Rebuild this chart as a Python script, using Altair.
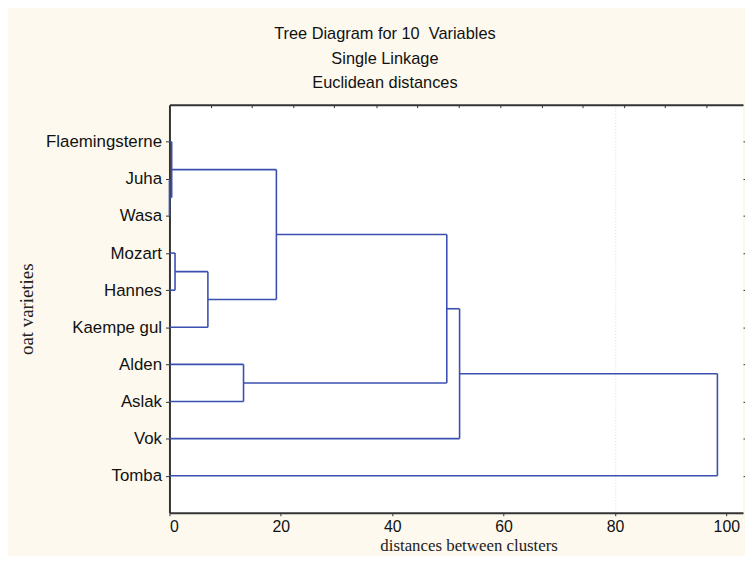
import json
import altair as alt
import pandas as pd

varieties = ["Flaemingsterne", "Juha", "Wasa", "Mozart", "Hannes",
             "Kaempe gul", "Alden", "Aslak", "Vok", "Tomba"]
# linkage steps: (cluster a, cluster b, linkage distance); new clusters numbered 10, 11, ...
merge_a = [1, 0, 3, 12, 11, 6, 14, 16, 17]
merge_b = [2, 10, 4, 5, 13, 7, 15, 8, 9]
merge_dist = [0.0, 0.4, 1.0, 6.9, 19.2, 13.3, 49.8, 52.1, 98.4]

x_ticks = [0, 20, 40, 60, 80, 100]
top_ticks = [7.4, 14.8, 22.2, 29.6, 37.1, 44.5, 51.9, 59.4, 66.8, 74.2, 81.6, 89.0, 96.5]
grid_values = [80]
x_max = 103.0

title_lines = ["Tree Diagram for 10\u00a0 Variables", "Single Linkage", "Euclidean distances"]

# build dendrogram segments from the linkage table
pos = {i: float(i) for i in range(len(varieties))}
hgt = {i: 0.0 for i in range(len(varieties))}
rows = []
for k, (a, b, d) in enumerate(zip(merge_a, merge_b, merge_dist)):
    new = len(varieties) + k
    rows.append({"x": hgt[a], "x2": d, "y": pos[a], "y2": pos[a]})
    rows.append({"x": hgt[b], "x2": d, "y": pos[b], "y2": pos[b]})
    rows.append({"x": d, "x2": d, "y": pos[a], "y2": pos[b]})
    pos[new] = (pos[a] + pos[b]) / 2
    hgt[new] = d
seg = pd.DataFrame(rows)

label_expr = json.dumps(varieties) + "[datum.value]"

xscale = alt.Scale(domain=[0, x_max], nice=False, zero=False)
yscale = alt.Scale(domain=[-1, len(varieties)], reverse=True, nice=False, zero=False)

FRAME = "#333333"
SANS = "Liberation Sans"
SERIF = "Liberation Serif"

main = alt.Chart(seg).mark_rule(color="#3b4fb0", strokeWidth=1.6).encode(
    x=alt.X("x:Q", scale=xscale, axis=alt.Axis(
        orient="bottom", values=x_ticks, grid=False, domainColor=FRAME, domainWidth=2,
        tickColor=FRAME, tickSize=3, labelFont=SANS, labelFontSize=16, labelColor="#111",
        labelPadding=3, title="distances between clusters", titleFont=SERIF,
        titleFontSize=17, titleFontWeight="normal", titleColor="#222",
        titleX=302, titleY=38, titleBaseline="alphabetic", titleAnchor="middle")),
    x2="x2:Q",
    y=alt.Y("y:Q", scale=yscale, axis=alt.Axis(
        orient="left", values=list(range(len(varieties))), labelExpr=label_expr,
        grid=False, domainColor=FRAME, domainWidth=2, tickColor=FRAME, tickSize=4,
        labelFont=SANS, labelFontSize=17, labelColor="#111", labelPadding=4,
        title="oat varieties", titleFont=SERIF, titleFontSize=19,
        titleFontWeight="normal", titleColor="#222", titleX=-144, titleY=206,
        titleAngle=-90, titleBaseline="middle", titleAlign="center")),
    y2="y2:Q",
)

ticks_layer = alt.Chart(seg).mark_rule(opacity=0).encode(
    x=alt.X("x:Q", scale=xscale, axis=alt.Axis(
        orient="top", values=top_ticks, offset=-3, domain=False, labels=False,
        grid=False, tickColor=FRAME, tickSize=3, title=None)),
    y=alt.Y("y:Q", scale=yscale, axis=alt.Axis(
        orient="right", values=list(range(len(varieties))), domain=False,
        labels=False, grid=False, tickColor=FRAME, tickSize=2, title=None)),
)

frame_layer = alt.Chart(seg).mark_rule(opacity=0).encode(
    x=alt.X("x:Q", scale=xscale, axis=alt.Axis(
        orient="top", values=grid_values, domainColor=FRAME, domainWidth=2,
        ticks=False, labels=False, grid=True, gridColor="#dcdcdc", gridDash=[1, 2],
        gridWidth=1, title=None)),
    y=alt.Y("y:Q", scale=yscale, axis=None),
)

chart = alt.layer(frame_layer, main, ticks_layer).resolve_axis(
    x="independent", y="independent"
).properties(
    width=579,
    height=412,
    background="#fdf9ee",
    padding={"left": 163, "top": 95, "right": 2, "bottom": 41},
    autosize=alt.AutoSizeParams(type="none"),
    title=alt.TitleParams(
        text=title_lines, anchor="middle", frame="group", dx=-72,
        font=SANS, fontSize=16.5, fontWeight="normal", color="#111",
        lineHeight=24.5, offset=13),
).configure_view(stroke=None, fill="white")

chart.save("out.html", embed_options={"renderer": "svg", "actions": False})
